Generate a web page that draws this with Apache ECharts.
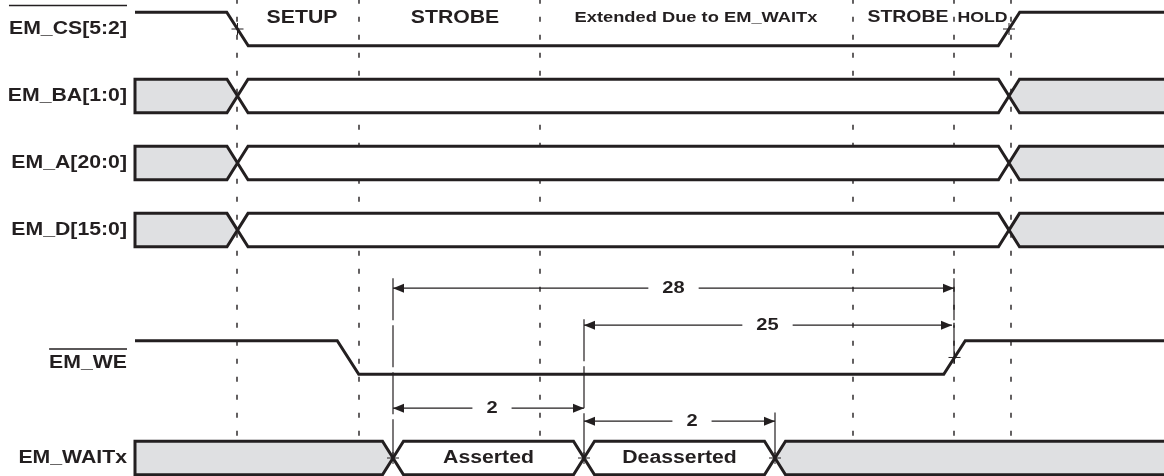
<!DOCTYPE html>
<html><head><meta charset="utf-8">
<script src="https://cdn.jsdelivr.net/npm/echarts@6/dist/echarts.min.js"></script>
<style>html,body{margin:0;padding:0;background:#fff}#c{width:1164px;height:476px}</style>
</head><body><div id="c"></div>
<script>
// ---------- data (time in arbitrary units, rows in signal-row units) ----------
const tStart = 13.5, tEnd = 116.4;
const phaseBoundaries = [23.7, 35.9, 54.0, 85.3, 95.4, 101.1];
const phaseNames = ['SETUP', 'STROBE', 'Extended Due to EM_WAITx', 'STROBE', 'HOLD'];
const phaseLabelT = [30.2, 45.5, 69.6, 90.8, 98.25];

const signalNames = ['EM_CS[5:2]', 'EM_BA[1:0]', 'EM_A[20:0]', 'EM_D[15:0]', 'EM_WE', 'EM_WAITx'];
const signalRows = [0, 1, 2, 3, 4.9, 6.4];
const signalOverlined = [true, false, false, false, true, false];

// single-bit signals: start level and edge times
const csInitial = 'H';
const csEdges = [23.75, 100.9];
const weInitial = 'H';
const weEdges = [34.8, 95.45];

// buses: crossing times and state of each segment
const busCrossings = [23.75, 100.9];
const busStates = ['invalid', 'valid', 'invalid'];
const busStateText = ['', '', ''];
const waitCrossings = [39.3, 58.4, 77.5];
const waitStates = ['invalid', 'valid', 'valid', 'invalid'];
const waitStateText = ['', 'Asserted', 'Deasserted', ''];

// timing dimensions
const dimFrom = [39.3, 58.4, 39.3, 58.4];
const dimTo = [95.4, 95.2, 58.4, 77.5];
const dimRow = [3.866, 4.418, 5.657, 5.85];
const dimText = ['28', '25', '2', '2'];
const dimTextT = [67.35, 76.75, 49.2, 69.2];

// extension lines of the dimensions
const extT = [39.3, 58.4, 77.5, 95.4];
const extFromRow = [3.72, 4.33, 5.72, 3.72];
const extToRow = [6.4, 6.4, 6.4, 4.9];

// crossing marks
const markT = [23.75, 100.9, 95.45, 39.3, 58.4, 77.5];
const markRow = [0, 0, 4.9, 6.4, 6.4, 6.4];

// ---------- style / layout ----------
const INK = '#231f20';
const GRAY = '#dfe0e2';
const FONT = '"Liberation Sans", Arial, Helvetica, sans-serif';
const SX = 1.18;
const HALF = 0.25;       // half signal height in row units
const EDGE_W = 2.15;     // edge duration
const CROSS_W = 2.1;     // bus crossing duration
const GRID_TOP_ROW = -0.45, GRID_BOTTOM_ROW = 6.13;
const PHASE_ROW = -0.165;
const phaseFont = [18, 18, 15.5, 16.5, 15];
const labelT = 12.7;
const labelRowOffset = [0, 0, 0, 0, 0.09, 0];
const overlineOffsetPx = [-23.5, 0, 0, 0, -14.5, 0];

const mctx = document.createElement('canvas').getContext('2d');
function tw(text, size) { mctx.font = 'bold ' + size + 'px ' + FONT; return mctx.measureText(text).width; }
function txt(p, text, size, align) {
  return { type: 'text', x: p[0], y: p[1], scaleX: SX,
    style: { text: text, fill: INK, font: 'bold ' + size + 'px ' + FONT, align: align || 'center', verticalAlign: 'middle' } };
}
function line(a, b, w, dash) {
  return { type: 'line', shape: { x1: a[0], y1: a[1], x2: b[0], y2: b[1] },
    style: { stroke: INK, lineWidth: w, lineDash: dash || null, fill: null } };
}

function renderGrid(params, api) {
  return { type: 'group', children: phaseBoundaries.map(t =>
    line(api.coord([t, GRID_TOP_ROW]), api.coord([t, GRID_BOTTOM_ROW]), 1.4, [5, 13])) };
}

function renderExt(params, api) {
  return { type: 'group', children: extT.map((t, i) =>
    line(api.coord([t, extFromRow[i]]), api.coord([t, extToRow[i]]), 1.2, [42, 5])) };
}

function busChildren(api, row, crossings, states, texts) {
  const top = row - HALF, bot = row + HALF, cw = CROSS_W / 2;
  const b = [tStart].concat(crossings, [tEnd]);
  const out = [];
  const C = p => api.coord(p);
  for (let i = 0; i < states.length; i++) {
    const l = b[i], r = b[i + 1];
    const first = i === 0, last = i === states.length - 1;
    let pts = [];
    if (first) pts.push([l, bot], [l, top]); else pts.push([l, row], [l + cw, top]);
    if (last) pts.push([r, top], [r, bot]); else pts.push([r - cw, top], [r, row], [r - cw, bot]);
    if (!first) pts.push([l + cw, bot]);
    const fill = states[i] === 'invalid' ? GRAY : '#ffffff';
    const px = pts.map(C);
    if (last) {
      out.push({ type: 'polygon', shape: { points: px }, style: { fill: fill, stroke: null } });
      out.push({ type: 'polyline', shape: { points: [C([r, top]), C([l + cw, top]), C([l, row]), C([l + cw, bot]), C([r, bot])] },
        style: { stroke: INK, lineWidth: 3, fill: null, lineJoin: 'miter' } });
    } else {
      out.push({ type: 'polygon', shape: { points: px }, style: { fill: fill, stroke: INK, lineWidth: 3, lineJoin: 'miter' } });
    }
    if (texts[i]) out.push(txt(C([(l + r) / 2, row]), texts[i], 18, 'center'));
  }
  return out;
}

function renderBuses(params, api) {
  let children = [];
  [1, 2, 3].forEach(s => { children = children.concat(busChildren(api, signalRows[s], busCrossings, busStates, busStateText)); });
  children = children.concat(busChildren(api, signalRows[5], waitCrossings, waitStates, waitStateText));
  return { type: 'group', children: children };
}

function wavePoints(api, row, initial, edges) {
  const lv = s => s === 'H' ? row - HALF : row + HALF;
  let cur = initial;
  const pts = [[tStart, lv(cur)]];
  edges.forEach(e => {
    const nxt = cur === 'H' ? 'L' : 'H';
    pts.push([e - EDGE_W / 2, lv(cur)], [e + EDGE_W / 2, lv(nxt)]);
    cur = nxt;
  });
  pts.push([tEnd, lv(cur)]);
  return pts.map(p => api.coord(p));
}

function renderWaves(params, api) {
  return { type: 'group', children: [
    { type: 'polyline', shape: { points: wavePoints(api, signalRows[0], csInitial, csEdges) }, style: { stroke: INK, lineWidth: 3, fill: null } },
    { type: 'polyline', shape: { points: wavePoints(api, signalRows[4], weInitial, weEdges) }, style: { stroke: INK, lineWidth: 3, fill: null } }
  ] };
}

function renderMarks(params, api) {
  const ch = [];
  markT.forEach((t, i) => {
    const p = api.coord([t, markRow[i]]);
    ch.push(line([p[0] - 6, p[1]], [p[0] + 6, p[1]], 1));
    ch.push(line([p[0], p[1] - 6], [p[0], p[1] + 6], 1));
  });
  return { type: 'group', children: ch };
}

function renderDims(params, api) {
  const ch = [];
  dimText.forEach((s, i) => {
    const a = api.coord([dimFrom[i], dimRow[i]]), b = api.coord([dimTo[i], dimRow[i]]), c = api.coord([dimTextT[i], dimRow[i]]);
    const g = tw(s, 17) * SX / 2 + 14;
    ch.push(line(a, [c[0] - g, c[1]], 1.2));
    ch.push(line([c[0] + g, c[1]], b, 1.2));
    ch.push({ type: 'polygon', shape: { points: [a, [a[0] + 11, a[1] - 4.5], [a[0] + 11, a[1] + 4.5]] }, style: { fill: INK } });
    ch.push({ type: 'polygon', shape: { points: [b, [b[0] - 11, b[1] - 4.5], [b[0] - 11, b[1] + 4.5]] }, style: { fill: INK } });
    ch.push(txt(c, s, 17, 'center'));
  });
  return { type: 'group', children: ch };
}

function renderText(params, api) {
  const ch = [];
  phaseNames.forEach((s, i) => ch.push(txt(api.coord([phaseLabelT[i], PHASE_ROW]), s, phaseFont[i], 'center')));
  signalNames.forEach((s, i) => {
    const p = api.coord([labelT, signalRows[i] + labelRowOffset[i]]);
    ch.push(txt(p, s, 18, 'right'));
    if (signalOverlined[i]) {
      const w = tw(s, 18) * SX;
      const y = p[1] + overlineOffsetPx[i];
      ch.push({ type: 'rect', shape: { x: p[0] - w, y: y - 0.65, width: w, height: 1.3 }, style: { fill: INK } });
    }
  });
  return { type: 'group', children: ch };
}

const chart = echarts.init(document.getElementById('c'), null, { renderer: 'canvas' });
function cs(render, z) { return { type: 'custom', renderItem: render, data: [[0, 0]], z: z, silent: true, clip: false }; }
chart.setOption({
  animation: false,
  backgroundColor: '#ffffff',
  grid: { left: 0, right: 0, top: 29, bottom: 18 },
  xAxis: { type: 'value', min: 0, max: 116.4, show: false },
  yAxis: { type: 'value', min: 0, max: 6.4, inverse: true, show: false },
  series: [
    cs(renderGrid, 1), cs(renderExt, 2), cs(renderBuses, 3), cs(renderWaves, 4),
    cs(renderMarks, 5), cs(renderDims, 6), cs(renderText, 7)
  ]
});
</script></body></html>
